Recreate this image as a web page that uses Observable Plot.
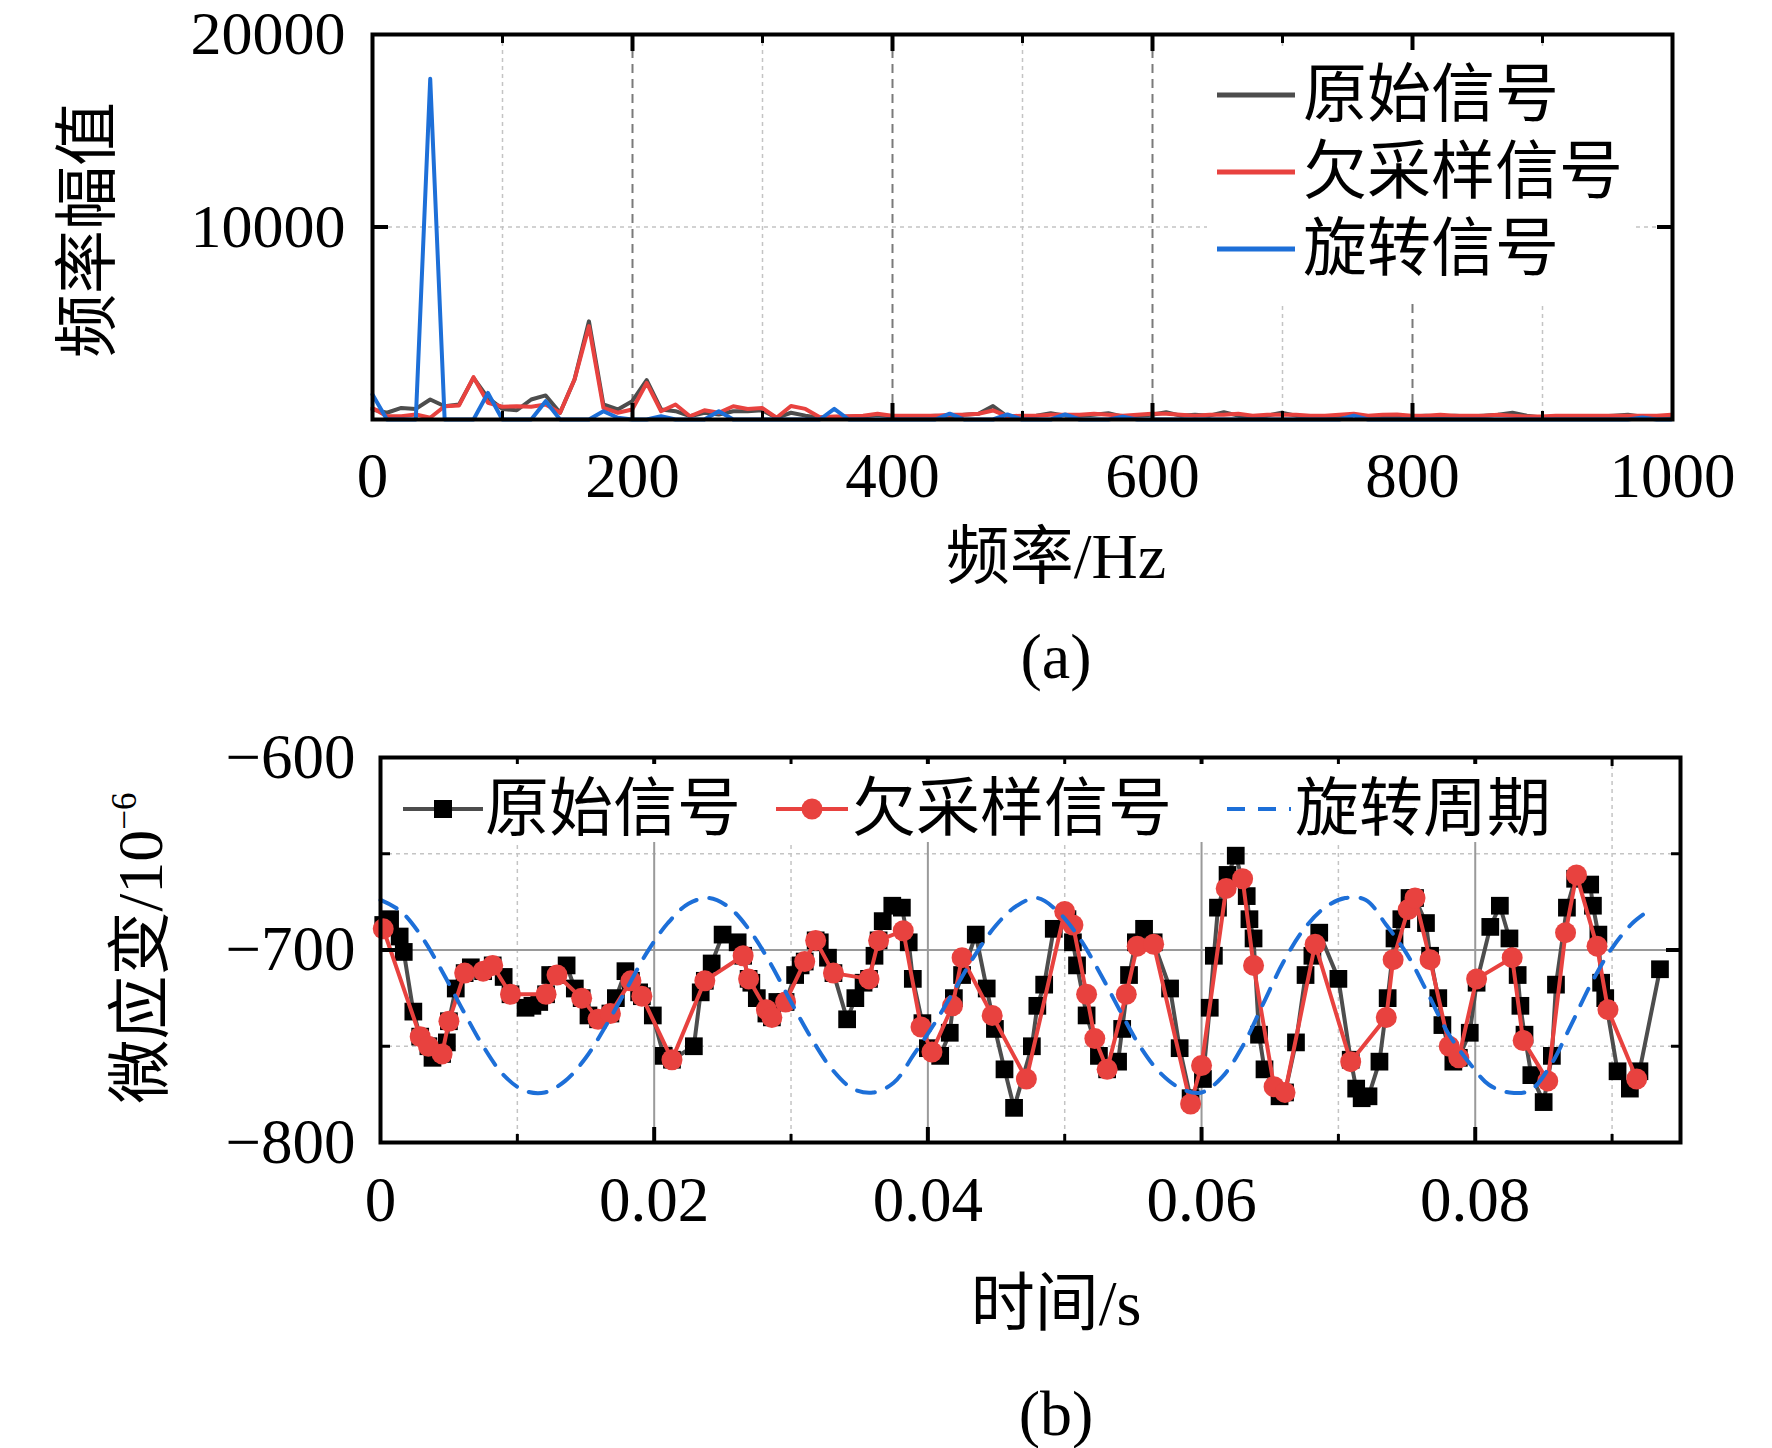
<!DOCTYPE html>
<html><head><meta charset="utf-8">
<script src="https://cdn.jsdelivr.net/npm/d3@7"></script>
<script src="https://cdn.jsdelivr.net/npm/@observablehq/plot@0.6"></script>
<style>
html,body{margin:0;padding:0;background:#fff;}
#page{position:relative;width:1772px;height:1448px;overflow:hidden;font-family:"Liberation Serif","Noto Sans CJK SC",serif;color:#000;background:#fff;}
.abs{position:absolute;white-space:nowrap;line-height:1;}
.lbl{font-size:64px;}
.c{transform:translate(-50%,-50%);}
.rot{transform:translate(-50%,-50%) rotate(-90deg);}
.legrow{position:absolute;display:flex;align-items:center;font-size:64px;line-height:1;white-space:nowrap;}
svg{overflow:visible;}
</style></head><body><div id="page"></div>
<script>
// ---------- (a) spectrum data ----------
const df = 11.1; // frequency resolution, Hz
const specOrig = [520,350,600,550,1040,690,780,2160,1120,550,
  480,1040,1250,350,2080,5100,780,520,950,2040,
  520,430,170,350,260,430,430,480,90,350,
  200,90,120,150,150,250,150,150,150,200,
  150,250,300,700,150,150,200,330,200,200,
  250,330,150,200,250,380,200,250,200,380,
  200,150,200,350,200,150,150,200,250,150,
  150,200,150,200,150,200,150,200,250,350,
  200,100,150,100,150,150,200,250,150,100,150];
const specUnder = [600,170,170,260,90,690,730,2200,870,660,
  690,660,780,350,2080,4850,600,350,520,1900,
  430,780,170,480,350,690,550,600,90,700,
  550,120,150,170,200,300,200,200,200,200,
  250,250,300,470,160,200,200,250,250,250,
  300,250,200,250,300,300,250,200,250,250,
  300,200,250,250,250,200,200,250,300,200,
  250,260,200,200,250,200,200,200,250,200,
  150,150,200,200,200,200,200,200,200,200,250];
const specRot = [1300,0,0,0,17700,0,0,0,1380,0,
  0,0,950,0,0,0,430,90,0,0,
  170,0,0,0,430,0,0,0,0,0,
  0,0,550,0,0,0,0,0,0,0,
  300,0,0,0,260,0,0,0,260,0,
  0,0,150,0,0,0,0,0,0,0,
  0,0,0,0,0,0,0,0,200,0,
  0,0,0,0,0,0,0,0,0,0,
  0,0,0,0,0,0,0,0,100,0,0];
const topXTicks = [0,200,400,600,800,1000];
const topXMajor = [200,400,600,800];
const topXMinor = [100,300,500,700,900];
const topYTicks = [10000,20000];

// ---------- (b) time series data (t in ms) ----------
const blackT = [0.2,0.7,1.4,1.7,2.4,2.9,3.5,3.8,4.5,4.85,5.0,5.5,6.15,6.6,7.5,8.2,9.0,9.5,10.6,11.1,11.6,12.1,12.4,12.9,13.6,14.2,14.7,15.2,15.9,16.8,17.2,17.9,18.3,18.9,19.1,19.9,20.7,21.3,22.9,23.4,23.7,24.2,25.0,26.1,26.5,26.9,27.1,27.5,28.2,28.6,29.0,29.6,30.3,30.7,31.0,31.8,32.1,32.7,33.1,34.1,34.7,35.3,35.7,36.1,36.4,36.7,37.4,38.1,38.6,38.9,39.6,40.0,40.9,41.6,41.9,42.5,43.5,44.3,44.9,45.6,46.3,47.6,48.0,48.5,49.2,50.2,50.6,50.9,51.6,52.5,53.1,53.9,54.2,54.7,55.2,55.8,56.5,57.7,58.4,59.2,60.1,60.6,60.9,61.2,61.9,62.5,63.3,63.5,63.8,64.2,64.6,65.7,66.1,66.9,67.6,68.1,68.6,70.0,70.9,71.3,71.7,72.2,73.0,73.6,74.1,74.6,75.2,75.6,76.4,76.7,77.3,77.6,78.4,78.8,79.6,80.1,81.1,81.8,82.5,83.1,83.3,83.6,84.1,85.0,85.6,85.9,86.7,87.3,88.4,88.6,89.0,89.2,89.5,90.4,91.3,92.0,93.5];
const blackV = [-687,-684,-693,-701,-732,-745,-750,-756,-754,-748,-737,-720,-712,-709,-711,-708,-714,-723,-730,-729,-727,-723,-713,-713,-708,-720,-725,-734,-736,-733,-725,-711,-716,-722,-724,-734,-755,-757,-750,-722,-716,-707,-692,-696,-703,-715,-717,-725,-733,-735,-727,-727,-713,-708,-706,-695,-696,-704,-712,-736,-725,-717,-715,-703,-695,-685,-677,-678,-696,-715,-738,-751,-755,-743,-725,-713,-692,-720,-741,-762,-782,-750,-729,-718,-689,-684,-696,-708,-734,-755,-762,-758,-741,-713,-696,-689,-696,-720,-751,-777,-767,-730,-703,-678,-661,-651,-672,-684,-694,-744,-762,-776,-774,-748,-713,-703,-691,-715,-757,-772,-777,-776,-758,-725,-694,-684,-673,-673,-686,-703,-725,-739,-758,-756,-743,-717,-688,-677,-694,-713,-729,-744,-765,-779,-755,-718,-678,-663,-666,-677,-692,-717,-725,-763,-772,-763,-710];
const redT = [0.2,2.9,3.5,4.5,5.0,6.15,7.5,8.2,9.5,12.1,12.9,14.7,15.9,16.8,18.3,19.1,21.3,23.7,26.5,26.9,28.2,28.6,29.6,31.0,31.8,33.1,35.7,36.4,38.2,39.5,40.3,41.8,42.5,44.7,47.2,50.0,50.6,51.6,52.2,53.1,54.5,55.3,56.5,59.2,60.0,61.8,63.0,63.8,65.3,66.1,68.3,70.9,73.5,74.0,75.1,75.6,76.7,78.1,78.8,80.1,82.7,83.5,85.3,86.6,87.4,88.9,89.7,91.8];
const redV = [-689,-745,-750,-754,-737,-712,-711,-708,-723,-723,-713,-725,-736,-733,-716,-724,-757,-716,-703,-715,-731,-735,-727,-706,-695,-712,-715,-695,-690,-740,-753,-729,-704,-734,-767,-680,-687,-723,-746,-762,-723,-698,-697,-780,-760,-668,-663,-708,-771,-774,-697,-758,-735,-705,-679,-673,-705,-750,-756,-715,-704,-747,-768,-691,-661,-698,-731,-767];
const blueT = [0,1.5,3,4.5,6,7.5,9,10.5,12,13.5,15,16.5,18,19.5,21,22.5,24,25.5,27,28.5,30,31.5,33,34.5,36,37.5,39,40.5,42,43.5,45,46.5,48,49.5,51,52.5,54,55.5,57,58.5,60,61.5,63,64.5,66,67.5,69,70.5,72,73.5,75,76.5,78,79.5,81,82.5,84,85.5,87,88.5,90,91.5,93];
const blueV = [-674,-680,-693,-711,-731,-750,-765,-773,-774,-768,-756,-739,-720,-701,-686,-676,-673,-678,-690,-707,-727,-746,-762,-772,-774,-769,-754,-738,-720,-702,-687,-677,-673,-680,-693,-711,-731,-750,-764,-772,-774,-766,-750,-728,-706,-689,-678,-673,-674,-687,-702,-722,-743,-758,-770,-774,-773,-760,-739,-717,-699,-686,-678];
const botXTicks = [0,0.02,0.04,0.06,0.08];
const botXMajor = [0.02,0.04,0.06,0.08];
const botXMinor = [0.01,0.03,0.05,0.07,0.09];
const botYTicks = [-600,-700,-800];
const botYMinor = [-650,-750];

// colours
const cOrig = "#4d4d4d", cRed = "#e8423f", cBlue = "#1d6fd8";
const fmt = d => d < 0 ? "\u2212" + Math.abs(d) : String(d);
const none = () => "";

const page = document.getElementById("page");
function place(el, left, top) {
  const w = document.createElement("div");
  w.style.position = "absolute"; w.style.left = left + "px"; w.style.top = top + "px";
  w.appendChild(el); page.appendChild(w);
}
function text(html, cls, x, y) {
  const d = document.createElement("div");
  d.className = "abs " + cls; d.innerHTML = html;
  d.style.left = x + "px"; d.style.top = y + "px";
  page.appendChild(d);
}

// ---------- (a) ----------
const TOP = 4; // vertical offset of the top panel
const n = Math.min(specOrig.length, specUnder.length, specRot.length);
const spec = d3.range(n).map(i => ({f: i * df, o: specOrig[i], u: specUnder[i], r: specRot[i]}));
const topPlot = Plot.plot({
  width: 1772, height: 520,
  marginLeft: 372, marginRight: 100, marginTop: 30, marginBottom: 105,
  x: {domain: [0, 1000], label: null},
  y: {domain: [0, 20000], label: null},
  style: {fontFamily: "Liberation Serif, serif", fontSize: "62px", color: "#000", background: "transparent"},
  marks: [
    Plot.gridX(topXMinor, {stroke: "#c4c4c4", strokeOpacity: 1, strokeWidth: 1.5, strokeDasharray: "4,4"}),
    Plot.gridX(topXMajor, {stroke: "#7a7a7a", strokeOpacity: 1, strokeWidth: 2, strokeDasharray: "9,6"}),
    Plot.gridY([10000], {stroke: "#c4c4c4", strokeOpacity: 1, strokeWidth: 1.5, strokeDasharray: "4,4"}),
    Plot.line(spec, {x: "f", y: "o", stroke: cOrig, strokeWidth: 4}),
    Plot.line(spec, {x: "f", y: "u", stroke: cRed, strokeWidth: 4}),
    Plot.line(spec, {x: "f", y: "r", stroke: cBlue, strokeWidth: 4}),
    Plot.axisX(topXTicks, {anchor: "bottom", tickSize: 0, tickPadding: 33, tickFormat: fmt, fontSize: 63, label: null}),
    Plot.axisY(topYTicks, {anchor: "left", tickSize: 0, tickPadding: 27, tickFormat: fmt, fontSize: 62, label: null}),
    Plot.axisX(topXMajor, {anchor: "bottom", tickSize: 16, dy: -16, strokeWidth: 4, tickFormat: none, label: null}),
    Plot.axisX(topXMinor, {anchor: "bottom", tickSize: 8, dy: -8, strokeWidth: 3, tickFormat: none, label: null}),
    Plot.axisX(topXMajor, {anchor: "top", tickSize: 16, dy: 16, strokeWidth: 4, tickFormat: none, label: null}),
    Plot.axisX(topXMinor, {anchor: "top", tickSize: 8, dy: 8, strokeWidth: 3, tickFormat: none, label: null}),
    Plot.axisY([10000], {anchor: "left", tickSize: 16, dx: 16, strokeWidth: 4, tickFormat: none, label: null}),
    Plot.axisY([10000], {anchor: "right", tickSize: 16, dx: -16, strokeWidth: 4, tickFormat: none, label: null}),
    Plot.frame({stroke: "#000", strokeWidth: 4})
  ]
});
place(topPlot, 0, TOP);

// legend (a)
const legA = document.createElement("div");
legA.style.cssText = "position:absolute;left:1207px;top:50px;width:426px;height:252px;background:#fff;";
page.appendChild(legA);
const legAItems = [["原始信号", cOrig, 95], ["欠采样信号", cRed, 172], ["旋转信号", cBlue, 249]];
legAItems.forEach(([name, col, y]) => {
  const r = document.createElement("div");
  r.className = "legrow";
  r.style.left = "1217px"; r.style.top = (y - 34) + "px"; r.style.height = "68px";
  r.innerHTML = `<svg width="80" height="10" style="margin-right:6px"><line x1="0" y1="5" x2="78" y2="5" stroke="${col}" stroke-width="5"/></svg><span>${name}</span>`;
  page.appendChild(r);
});

text("频率幅值", "lbl rot", 88, 230);
text("频率/Hz", "lbl c", 1056, 557);
text("(a)", "lbl c", 1056, 657);

// ---------- (b) ----------
const mk = (T, V) => d3.range(Math.min(T.length, V.length)).map(i => ({t: T[i] / 1000, v: V[i]}));
const black = mk(blackT, blackV), red = mk(redT, redV), blue = mk(blueT, blueV);
const botPlot = Plot.plot({
  width: 1772, height: 520,
  marginLeft: 380, marginRight: 92, marginTop: 57, marginBottom: 78,
  x: {domain: [0, 0.095], label: null},
  y: {domain: [-800, -600], label: null},
  style: {fontFamily: "Liberation Serif, serif", fontSize: "63px", color: "#000", background: "transparent"},
  marks: [
    Plot.gridX(botXMinor, {stroke: "#c4c4c4", strokeOpacity: 1, strokeWidth: 1.5, strokeDasharray: "4,4"}),
    Plot.gridY(botYMinor, {stroke: "#c4c4c4", strokeOpacity: 1, strokeWidth: 1.5, strokeDasharray: "4,4"}),
    Plot.gridX(botXMajor, {stroke: "#9a9a9a", strokeOpacity: 1, strokeWidth: 2}),
    Plot.gridY([-700], {stroke: "#9a9a9a", strokeOpacity: 1, strokeWidth: 2}),
    Plot.line(black, {x: "t", y: "v", stroke: cOrig, strokeWidth: 4}),
    Plot.dot(black, {x: "t", y: "v", symbol: "square", r: 10, fill: "#000", stroke: "none"}),
    Plot.line(red, {x: "t", y: "v", stroke: cRed, strokeWidth: 4}),
    Plot.dot(red, {x: "t", y: "v", symbol: "circle", r: 10.5, fill: cRed, stroke: "none"}),
    Plot.line(blue, {x: "t", y: "v", stroke: cBlue, strokeWidth: 4, strokeDasharray: "18,13", curve: "catmull-rom"}),
    Plot.axisX(botXTicks, {anchor: "bottom", tickSize: 0, tickPadding: 34, tickFormat: fmt, fontSize: 63, label: null}),
    Plot.axisY(botYTicks, {anchor: "left", tickSize: 0, tickPadding: 25, tickFormat: fmt, fontSize: 63, label: null}),
    Plot.axisX(botXMajor, {anchor: "bottom", tickSize: 15, dy: -15, strokeWidth: 4, tickFormat: none, label: null}),
    Plot.axisX(botXMinor, {anchor: "bottom", tickSize: 8, dy: -8, strokeWidth: 3, tickFormat: none, label: null}),
    Plot.axisX(botXMajor, {anchor: "top", tickSize: 15, dy: 15, strokeWidth: 4, tickFormat: none, label: null}),
    Plot.axisX(botXMinor, {anchor: "top", tickSize: 8, dy: 8, strokeWidth: 3, tickFormat: none, label: null}),
    Plot.axisY([-700], {anchor: "left", tickSize: 15, dx: 15, strokeWidth: 4, tickFormat: none, label: null}),
    Plot.axisY(botYMinor, {anchor: "left", tickSize: 10, dx: 10, strokeWidth: 3, tickFormat: none, label: null}),
    Plot.axisY([-700], {anchor: "right", tickSize: 15, dx: -15, strokeWidth: 4, tickFormat: none, label: null}),
    Plot.axisY(botYMinor, {anchor: "right", tickSize: 10, dx: -10, strokeWidth: 3, tickFormat: none, label: null}),
    Plot.frame({stroke: "#000", strokeWidth: 4})
  ]
});
place(botPlot, 0, 700);

// legend (b)
const legB = document.createElement("div");
legB.style.cssText = "position:absolute;left:395px;top:764px;width:1175px;height:78px;background:#fff;";
page.appendChild(legB);
const legBItems = [
  ["原始信号", 403, 80, `<line x1="0" y1="20" x2="80" y2="20" stroke="${cOrig}" stroke-width="4"/><rect x="31" y="11" width="18" height="18" fill="#000"/>`],
  ["欠采样信号", 776, 74, `<line x1="0" y1="20" x2="72" y2="20" stroke="${cRed}" stroke-width="4"/><circle cx="36" cy="20" r="10.5" fill="${cRed}"/>`],
  ["旋转周期", 1227, 66, `<line x1="0" y1="20" x2="64" y2="20" stroke="${cBlue}" stroke-width="4" stroke-dasharray="18,13"/>`]
];
legBItems.forEach(([name, x, w, sw]) => {
  const r = document.createElement("div");
  r.className = "legrow";
  r.style.left = x + "px"; r.style.top = (809 - 34) + "px"; r.style.height = "68px";
  r.innerHTML = `<svg width="${w}" height="40" style="margin-right:2px">${sw}</svg><span>${name}</span>`;
  page.appendChild(r);
});

text("微应变/10<sup style=\"font-size:0.55em;vertical-align:0.75em\">\u22126</sup>", "lbl rot", 140, 948);
text("时间/s", "lbl c", 1056, 1304);
text("(b)", "lbl c", 1056, 1414);
</script></body></html>
